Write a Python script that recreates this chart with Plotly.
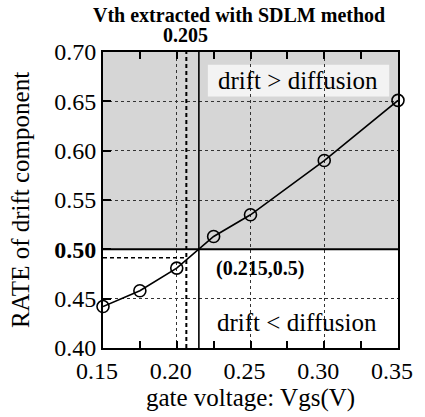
import plotly.graph_objects as go

# data
vgs = [0.15, 0.175, 0.20, 0.225, 0.25, 0.30, 0.35]
rate = [0.442, 0.458, 0.481, 0.513, 0.535, 0.590, 0.651]
x_ticks = [0.15, 0.20, 0.25, 0.30, 0.35]
x_ticklabels = ["0.15", "0.20", "0.25", "0.30", "0.35"]
x_minor_ticks = [0.175, 0.225, 0.275, 0.325]
y_ticks = [0.40, 0.45, 0.50, 0.55, 0.60, 0.65, 0.70]
y_ticklabels = ["0.40", "0.45", "<b>0.50</b>", "0.55", "0.60", "0.65", "0.70"]
vth_sdlm = 0.2065          # dashed line (labelled 0.205)
vth_sdlm_rate = 0.4914
cross_point = (0.215, 0.5)
x_range = [0.15, 0.35]
y_range = [0.40, 0.70]

FONT = "Liberation Serif"

fig = go.Figure()

fig.add_trace(go.Scatter(
    x=vgs, y=rate, mode="lines+markers",
    line=dict(color="black", width=1.6),
    marker=dict(symbol="circle-open", size=12, color="black", line=dict(width=1.6)),
    showlegend=False, cliponaxis=False,
))

shapes = [
    dict(type="rect", xref="x", yref="y", x0=x_range[0], x1=x_range[1],
         y0=cross_point[1], y1=y_range[1], fillcolor="#d6d6d6", line=dict(width=0), layer="below"),
    dict(type="rect", xref="x", yref="y", x0=0.2211, x1=0.344, y0=0.655, y1=0.687,
         fillcolor="#f3f3f3", line=dict(width=0), layer="below"),
    dict(type="line", xref="x", yref="y", x0=cross_point[0], x1=cross_point[0],
         y0=y_range[0], y1=y_range[1], line=dict(color="black", width=1.6)),
    dict(type="line", xref="x", yref="y", x0=x_range[0], x1=x_range[1],
         y0=cross_point[1], y1=cross_point[1], line=dict(color="black", width=2)),
    dict(type="line", xref="x", yref="y", x0=vth_sdlm, x1=vth_sdlm,
         y0=y_range[0], y1=y_range[1], line=dict(color="black", width=2, dash="4px,3px")),
    dict(type="line", xref="x", yref="y", x0=x_range[0], x1=vth_sdlm,
         y0=vth_sdlm_rate, y1=vth_sdlm_rate, line=dict(color="black", width=1.6, dash="4px,3px")),
]

annotations = [
    dict(text="<b>Vth extracted with SDLM method</b>", xref="paper", yref="paper",
         x=0.462, y=1.125, showarrow=False, font=dict(family=FONT, size=20, color="black"),
         xanchor="center", yanchor="middle"),
    dict(text="<b>0.205</b>", xref="paper", yref="paper", x=0.279, y=1.056, showarrow=False,
         font=dict(family=FONT, size=20, color="black"), xanchor="center", yanchor="middle"),
    dict(text="drift > diffusion", xref="x", yref="y", x=0.2825, y=0.6713, showarrow=False,
         font=dict(family=FONT, size=25, color="black"), xanchor="center", yanchor="middle"),
    dict(text="drift < diffusion", xref="x", yref="y", x=0.2815, y=0.426, showarrow=False,
         font=dict(family=FONT, size=25, color="black"), xanchor="center", yanchor="middle"),
    dict(text="<b>(0.215,0.5)</b>", xref="x", yref="y", x=0.2565, y=0.481, showarrow=False,
         font=dict(family=FONT, size=20, color="black"), xanchor="center", yanchor="middle"),
]

fig.update_layout(
    width=425, height=417,
    margin=dict(l=103, r=21, t=52, b=61),
    paper_bgcolor="white", plot_bgcolor="white",
    font=dict(family=FONT, color="black"),
    shapes=shapes, annotations=annotations,
    xaxis=dict(
        range=x_range, tickvals=x_ticks, ticktext=x_ticklabels,
        ticks="inside", ticklen=7, tickcolor="black", tickwidth=1.5,
        minor=dict(ticks="inside", ticklen=7, tickvals=x_minor_ticks, tickcolor="black", showgrid=False),
        showline=True, linecolor="black", linewidth=2, mirror="allticks",
        showgrid=True, gridcolor="#333333", griddash="dot", gridwidth=1.3,
        zeroline=False, tickfont=dict(family=FONT, size=24), ticklabelshift=-6,
        title=dict(text="gate voltage: Vgs(V)", font=dict(family=FONT, size=25), standoff=4),
    ),
    yaxis=dict(
        range=y_range, tickvals=y_ticks, ticktext=y_ticklabels,
        ticks="inside", ticklen=8, tickcolor="black", tickwidth=1.5,
        showline=True, linecolor="black", linewidth=2, mirror=True,
        showgrid=True, gridcolor="#333333", griddash="dot", gridwidth=1.3,
        zeroline=False, tickfont=dict(family=FONT, size=24),
        title=dict(text="RATE of drift component", font=dict(family=FONT, size=25), standoff=17),
    ),
)

fig.write_html("out.html")
